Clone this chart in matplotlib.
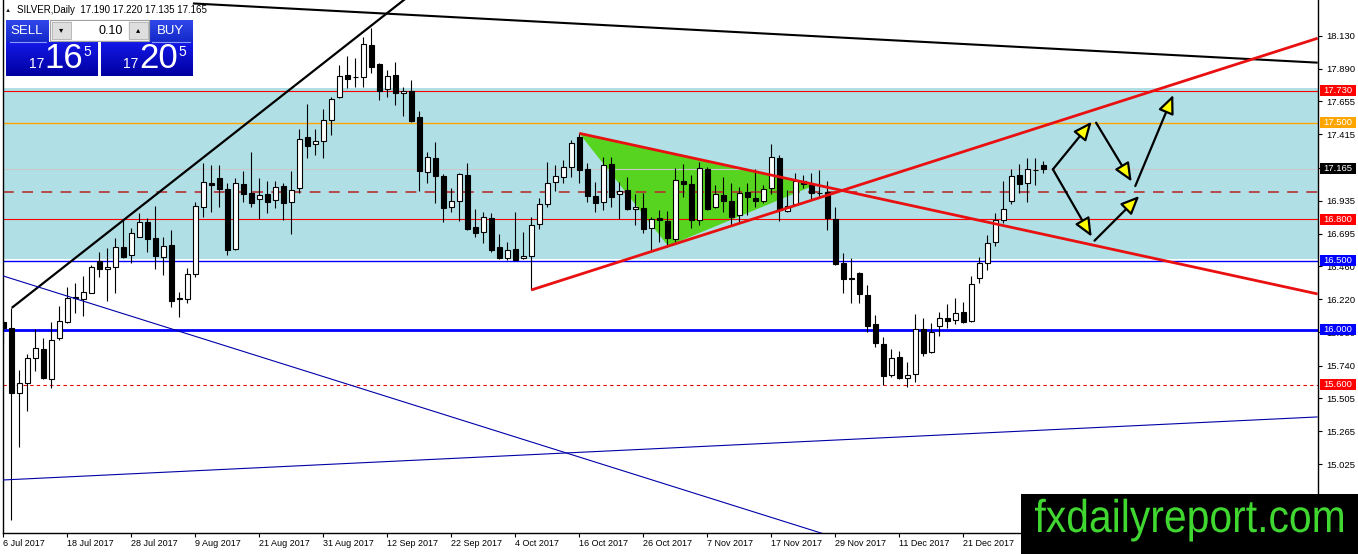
import numpy as np
import matplotlib
matplotlib.use("Agg")
import matplotlib.pyplot as plt
from matplotlib.patches import Rectangle, Polygon, PathPatch
from matplotlib.colors import LinearSegmentedColormap
from matplotlib.transforms import blended_transform_factory, Affine2D
from matplotlib.textpath import TextPath
from matplotlib.font_manager import FontProperties

plt.rcParams["font.family"] = ["Liberation Sans", "DejaVu Sans"]

# SILVER daily bars, 6 Jul 2017 onwards (one bar per trading day)
opens = [
    16.056, 16.013, 15.544, 15.612, 15.795, 15.860, 15.641, 15.938, 16.054, 16.230,
    16.221, 16.269, 16.500, 16.443, 16.452, 16.597, 16.540, 16.674, 16.778, 16.663,
    16.525, 16.614, 16.230, 16.221, 16.402, 16.887, 17.060, 17.097, 17.018, 16.583,
    17.054, 16.989, 16.945, 16.983, 16.940, 17.041, 16.923, 17.025, 17.394, 17.344,
    17.370, 17.520, 17.684, 17.846, 17.831, 17.829, 18.063, 17.925, 17.742, 17.846,
    17.713, 17.732, 17.539, 17.145, 17.246, 17.116, 16.891, 16.935, 17.121, 16.742,
    16.710, 16.807, 16.597, 16.518, 16.583, 16.518, 16.534, 16.764, 16.909, 17.068,
    17.104, 17.181, 17.399, 17.162, 16.969, 16.923, 17.201, 16.981, 17.012, 16.873,
    16.880, 16.735, 16.810, 16.788, 16.655, 17.080, 17.056, 16.795, 17.162, 16.887,
    16.974, 16.933, 16.831, 16.996, 16.952, 16.933, 17.025, 17.242, 16.860, 16.911,
    17.080, 17.049, 16.994, 17.000, 16.800, 16.481, 16.375, 16.409, 16.252, 16.042,
    15.897, 15.672, 15.805, 15.653, 15.677, 16.003, 15.837, 16.029, 16.083, 16.071,
    16.126, 16.066, 16.373, 16.486, 16.634, 16.795, 16.935, 17.121, 17.061, 17.160,
    17.190,
]
highs = [
    16.078, 16.158, 15.708, 15.824, 16.005, 15.940, 16.058, 16.172, 16.307, 16.339,
    16.389, 16.469, 16.563, 16.590, 16.662, 16.795, 16.735, 16.848, 16.807, 16.897,
    16.674, 16.722, 16.273, 16.445, 16.928, 17.210, 17.194, 17.194, 17.061, 17.097,
    17.150, 17.286, 17.097, 17.080, 17.080, 17.061, 17.150, 17.452, 17.636, 17.452,
    17.597, 17.684, 17.918, 17.983, 17.967, 18.119, 18.184, 17.933, 17.882, 17.938,
    17.761, 17.809, 17.587, 17.290, 17.362, 17.128, 17.025, 17.133, 17.210, 16.873,
    16.855, 16.844, 16.692, 16.633, 16.851, 16.706, 16.819, 16.952, 17.217, 17.194,
    17.230, 17.375, 17.423, 17.206, 17.073, 17.254, 17.249, 17.073, 17.104, 16.983,
    16.989, 16.819, 16.868, 16.862, 17.170, 17.199, 17.121, 17.217, 17.181, 17.049,
    17.104, 17.061, 17.032, 17.061, 17.162, 17.049, 17.346, 17.266, 17.012, 17.133,
    17.121, 17.133, 17.157, 17.080, 16.887, 16.554, 16.518, 16.418, 16.324, 16.107,
    15.950, 15.858, 15.846, 15.769, 16.114, 16.083, 16.051, 16.131, 16.187, 16.228,
    16.203, 16.389, 16.525, 16.686, 16.844, 17.080, 17.162, 17.201, 17.242, 17.242,
    17.220,
]
lows = [
    15.897, 14.622, 15.153, 15.414, 15.703, 15.643, 15.576, 15.922, 16.049, 16.121,
    16.100, 16.267, 16.384, 16.210, 16.264, 16.519, 16.482, 16.672, 16.565, 16.438,
    16.397, 16.163, 16.092, 16.192, 16.384, 16.819, 16.855, 16.891, 16.541, 16.578,
    16.928, 16.887, 16.802, 16.844, 16.880, 16.795, 16.692, 16.989, 17.242, 17.266,
    17.242, 17.411, 17.677, 17.749, 17.761, 17.761, 17.858, 17.665, 17.684, 17.628,
    17.551, 17.507, 17.007, 17.065, 16.920, 16.783, 16.855, 16.788, 16.725, 16.674,
    16.631, 16.565, 16.510, 16.505, 16.502, 16.510, 16.288, 16.728, 16.891, 17.007,
    17.065, 17.109, 17.065, 16.928, 16.851, 16.868, 16.887, 16.800, 16.868, 16.759,
    16.699, 16.565, 16.638, 16.602, 16.638, 16.964, 16.735, 16.759, 16.868, 16.880,
    16.855, 16.759, 16.783, 16.831, 16.891, 16.916, 16.983, 16.790, 16.855, 16.904,
    17.025, 16.940, 16.952, 16.722, 16.469, 16.268, 16.192, 16.196, 15.986, 15.873,
    15.600, 15.655, 15.641, 15.583, 15.624, 15.810, 15.829, 15.955, 16.010, 16.042,
    16.047, 16.058, 16.341, 16.433, 16.607, 16.776, 16.911, 16.989, 16.928, 17.049,
    17.135,
]
closes = [
    16.013, 15.544, 15.612, 15.795, 15.867, 15.650, 15.926, 16.061, 16.228, 16.237,
    16.276, 16.452, 16.443, 16.452, 16.602, 16.529, 16.698, 16.778, 16.655, 16.534,
    16.609, 16.210, 16.226, 16.402, 16.897, 17.068, 17.049, 17.018, 16.578, 17.061,
    16.981, 16.920, 16.976, 16.928, 17.032, 16.916, 17.012, 17.382, 17.333, 17.370,
    17.520, 17.672, 17.838, 17.817, 17.828, 18.070, 17.906, 17.732, 17.838, 17.713,
    17.732, 17.515, 17.152, 17.254, 17.116, 16.884, 16.933, 17.128, 16.730, 16.703,
    16.815, 16.578, 16.518, 16.578, 16.505, 16.534, 16.759, 16.909, 17.061, 17.114,
    17.177, 17.351, 17.157, 16.971, 16.920, 17.194, 16.964, 17.005, 16.873, 16.887,
    16.728, 16.800, 16.795, 16.663, 17.085, 17.056, 16.795, 17.170, 16.875, 16.981,
    16.935, 16.819, 16.989, 16.960, 16.935, 17.018, 17.249, 16.868, 16.897, 17.080,
    17.054, 16.993, 16.990, 16.807, 16.476, 16.365, 16.371, 16.259, 16.027, 15.902,
    15.667, 15.793, 15.648, 15.672, 16.003, 15.834, 15.986, 16.083, 16.066, 16.123,
    16.058, 16.329, 16.486, 16.626, 16.795, 16.873, 17.114, 17.054, 17.162, 17.156,
    17.165,
]

date_labels = ["6 Jul 2017", "18 Jul 2017", "28 Jul 2017", "9 Aug 2017",
               "21 Aug 2017", "31 Aug 2017", "12 Sep 2017", "22 Sep 2017",
               "4 Oct 2017", "16 Oct 2017", "26 Oct 2017", "7 Nov 2017",
               "17 Nov 2017", "29 Nov 2017", "11 Dec 2017", "21 Dec 2017"]
bars_per_label = 8

price_ticks = [18.130, 17.890, 17.655, 17.415, 17.175, 16.935, 16.695, 16.460,
               16.220, 15.980, 15.740, 15.505, 15.265, 15.025, 14.785]

# shaded zone and horizontal levels
zone_low, zone_high = 16.515, 17.752
level_prices = [17.730, 17.500, 17.165, 17.000, 16.800, 16.500, 16.000, 15.600]
level_colors = ["#ff0000", "#ffa500", "#c8c8c8", "#b83030", "#ff0000",
                "#0000ff", "#0000ff", "#e00000"]
level_widths = [0.8, 1.0, 0.8, 1.2, 0.8, 1.0, 2.0, 0.8]
level_styles = ["-", "-", "-", (0, (6.5, 5)), "-", "-", "-", (0, (3, 3))]

tag_prices = [17.730, 17.500, 17.165, 16.800, 16.500, 16.000, 15.600]
tag_colors = ["#ff0000", "#ffa500", "#000000", "#ff0000", "#0000ff",
              "#0000ff", "#ff0000"]

# drawn trend lines: (bar, price) pairs
black_up = [(1.05, 16.158), (43.96, 18.111)]
black_down = [(23.7, 18.364), (164.3, 17.935)]
red_down = [(72.0, 17.423), (164.3, 16.259)]
red_up = [(66.0, 16.288), (164.3, 18.112)]
navy_down = [(-0.1, 16.391), (110.0, 14.385)]
navy_up = [(-0.1, 14.911), (164.3, 15.368)]
triangle = [(72.0, 17.423), (83.1, 16.607), (101.5, 17.049)]

# scenario arrows
arrow_x0 = [131.2, 136.6, 141.5, 131.2, 136.4]
arrow_y0 = [17.162, 17.500, 17.041, 17.162, 16.645]
arrow_x1 = [136.05, 141.05, 146.25, 136.05, 142.0]
arrow_y1 = [17.507, 17.073, 17.701, 16.674, 16.969]

W, H = 1358, 554
fig = plt.figure(figsize=(W / 100, H / 100), dpi=100)
fig.patch.set_facecolor("white")

ax = fig.add_axes([2.5 / W, 21 / H, (1318 - 2.5) / W, (H - 21) / H])
ax.set_facecolor("white")
ax.set_xlim(-0.1, 164.34)
ax.set_ylim(14.527, 18.389)

ax.axhspan(zone_low, zone_high, color="#b0e0e6", lw=0, zorder=0.5)
ax.add_patch(Polygon(triangle, closed=True, fc="#56d420", ec="none", zorder=1))
for p, col, w, ls in zip(level_prices, level_colors, level_widths, level_styles):
    ax.axhline(p, color=col, lw=w, ls=ls, zorder=2)

o = np.array(opens)
h = np.array(highs)
l = np.array(lows)
c = np.array(closes)
x = np.arange(len(o))
up = c >= o
ax.vlines(x, l, h, color="black", lw=0.8, zorder=3)
ax.bar(x, np.maximum(np.abs(c - o), 0.0005), bottom=np.minimum(o, c), width=0.62,
       color=np.where(up, "white", "black"), edgecolor="black", linewidth=0.8,
       zorder=4)


def ray(pts, color, lw):
    (x0, y0), (x1, y1) = pts
    ax.plot([x0, x1], [y0, y1], color=color, lw=lw, zorder=5,
            solid_capstyle="butt")


# extend the rising black line to the top of the chart
(bx0, by0), (bx1, by1) = black_up
slope = (by1 - by0) / (bx1 - bx0)
ray([(bx0, by0), (bx1 + 10, by1 + 10 * slope)], "black", 1.6)
ray(black_down, "black", 1.5)
ray(red_down, "#e81010", 2.0)
ray(red_up, "#e81010", 2.0)
ray(navy_down, "#0000a8", 0.8)
ray(navy_up, "#0000a8", 0.8)

for xs, ys, xe, ye in zip(arrow_x0, arrow_y0, arrow_x1, arrow_y1):
    ax.annotate("", xy=(xe, ye), xytext=(xs, ys), zorder=6,
                arrowprops=dict(arrowstyle="-|>,head_length=0.8,head_width=0.35",
                                mutation_scale=14, lw=1.6, ec="black", fc="yellow",
                                shrinkA=0, shrinkB=0))

ax.spines["top"].set_visible(False)
for s in ["left", "right", "bottom"]:
    ax.spines[s].set_linewidth(1.0)
    ax.spines[s].set_color("black")

ax.yaxis.tick_right()
ax.set_yticks(price_ticks)
ax.set_yticklabels(["%.3f" % t for t in price_ticks])
ax.tick_params(axis="y", direction="out", length=3, width=0.8, pad=3,
               labelsize=6.8, colors="black")

ax.set_xticks(np.arange(len(date_labels)) * bars_per_label)
ax.set_xticklabels(date_labels)
for t in ax.get_xticklabels():
    t.set_ha("left")
ax.tick_params(axis="x", direction="out", length=3, width=0.8, pad=1.5,
               labelsize=6.5, colors="black")

# price tags on the right scale
blend = blended_transform_factory(ax.transAxes, ax.transData)
tag_w = 36 / 1315.5
tag_h = 11 * (18.389 - 14.527) / 533
x_tag = (1320 - 2.5) / 1315.5
for p, col in zip(tag_prices, tag_colors):
    ax.add_patch(Rectangle((x_tag, p - tag_h / 2), tag_w, tag_h, transform=blend,
                           fc=col, ec="none", clip_on=False, zorder=8))
    ax.text(x_tag + tag_w / 2, p, "%.3f" % p, transform=blend, ha="center",
            va="center", color="white", fontsize=6.8, clip_on=False, zorder=9)

# overlay in pixel coordinates: trade panel and watermark
ov = fig.add_axes([0, 0, 1, 1], zorder=10)
ov.patch.set_alpha(0)
ov.axis("off")


def grad_box(x0, y0, w, hgt, top, bottom):
    g = np.linspace(0, 1, 32).reshape(-1, 1)
    cmap = LinearSegmentedColormap.from_list("g", [top, bottom])
    ov.imshow(g, extent=(x0, x0 + w, y0 + hgt, y0), cmap=cmap, aspect="auto",
              zorder=2, interpolation="bilinear")


ov.text(5, 10, "\u25b2", fontsize=4.5, va="center", ha="left", color="#202020")
ov.text(17, 10, "SILVER,Daily  17.190 17.220 17.135 17.165", fontsize=7,
        va="center", ha="left", color="black")

grad_box(6, 20, 43, 22, "#3048ea", "#1428c8")
grad_box(149, 20, 44, 22, "#3048ea", "#1428c8")
grad_box(6, 42, 92, 34, "#1418e6", "#0000a0")
grad_box(101, 42, 92, 34, "#1418e6", "#0000a0")
ov.add_patch(Rectangle((50, 20), 99, 21, fc="#f4f4f4", ec="#a0a0a0", lw=0.8, zorder=3))
ov.add_patch(Rectangle((72, 21), 56, 19, fc="white", ec="none", zorder=3))
ov.add_patch(Rectangle((52, 22), 19, 17, fc="#dedede", ec="#b0b0b0", lw=0.6, zorder=3))
ov.add_patch(Rectangle((129, 22), 19, 17, fc="#dedede", ec="#b0b0b0", lw=0.6, zorder=3))
ov.text(61.5, 30.5, "\u25be", fontsize=6, ha="center", va="center", zorder=4)
ov.text(138.5, 30.5, "\u25b4", fontsize=6, ha="center", va="center", zorder=4)
ov.text(123, 30.5, "0.10", fontsize=9, ha="right", va="center", zorder=4)
ov.plot([10, 46], [42, 42], color="#8898ff", lw=0.8, zorder=4)
ov.plot([152, 190], [42, 42], color="#8898ff", lw=0.8, zorder=4)
ov.text(27, 31, "SELL", fontsize=9.5, color="white", ha="center", va="center", zorder=4)
ov.text(170.5, 31, "BUY", fontsize=9.5, color="white", ha="center", va="center", zorder=4)
ov.text(37, 64, "17", fontsize=10, color="white", ha="center", va="center", zorder=4)
ov.text(63.5, 59, "16", fontsize=25, color="white", ha="center", va="center", zorder=4)
ov.text(87, 52, "5", fontsize=10, color="white", ha="center", va="center", zorder=4)
ov.text(131, 64, "17", fontsize=10, color="white", ha="center", va="center", zorder=4)
ov.text(158.5, 59, "20", fontsize=25, color="white", ha="center", va="center", zorder=4)
ov.text(182, 52, "5", fontsize=10, color="white", ha="center", va="center", zorder=4)

# watermark: a narrow, tall lettering, so the text outline is stretched
ov.add_patch(Rectangle((1021, 494), 337, 60, fc="black", ec="none", zorder=5))
tp = TextPath((0, 0), "fxdailyreport.com", size=1,
              prop=FontProperties(family="Liberation Sans"))
ext = tp.get_extents()
sx = 308 / ext.width
sy = 46
tr = Affine2D().translate(-ext.x0, 0).scale(sx, -sy).translate(1035, 532)
ov.add_patch(PathPatch(tr.transform_path(tp), fc="#40d830", ec="none", zorder=6))

ov.set_xlim(0, W)
ov.set_ylim(H, 0)

fig.savefig("out.png", dpi=100, facecolor="white")
